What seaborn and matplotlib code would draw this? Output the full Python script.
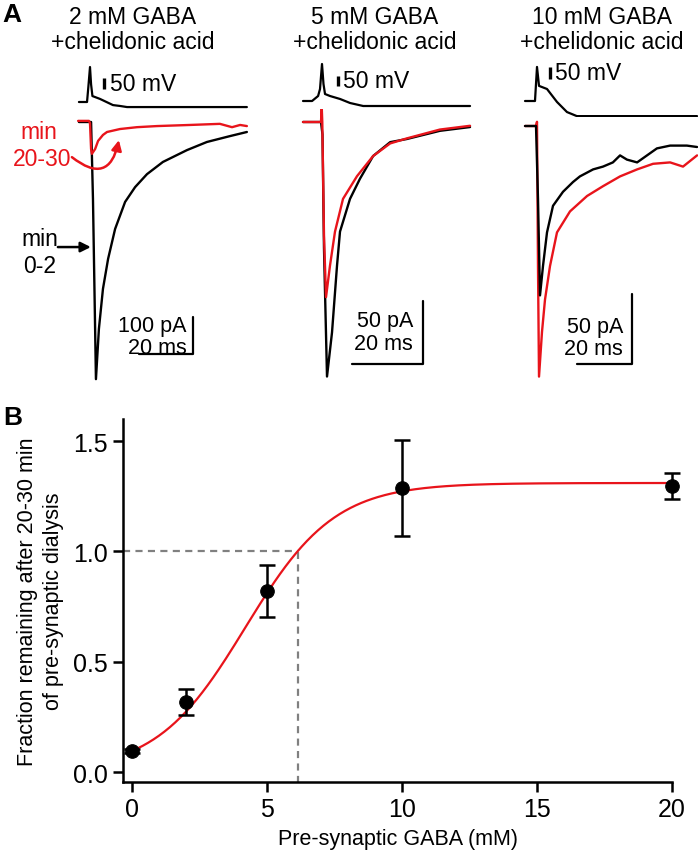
import numpy as np
import pandas as pd
import matplotlib
matplotlib.use("Agg")
import matplotlib.pyplot as plt
import seaborn as sns

sns.set_style("ticks")
plt.rcParams['font.family'] = ['Liberation Sans', 'DejaVu Sans']
for k in ['text.color', 'axes.labelcolor', 'xtick.color', 'ytick.color', 'axes.edgecolor']:
    plt.rcParams[k] = 'black'

RED = '#e8141b'
W, H = 698, 853
FS = 16.5

# ---------------- Panel A data (t in ms from spike peak, AP in mV from rest, IPSC in pA)
titles = ["2 mM GABA\n+chelidonic acid", "5 mM GABA\n+chelidonic acid", "10 mM GABA\n+chelidonic acid"]
amp_bars = ["100 pA", "50 pA", "50 pA"]
amp_sizes = [100, 50, 50]

# 2 mM
ap1_t = [-4.1, -1.1, -0.6, 0.0, 0.4, 0.9, 3.7, 8.5, 11.1, 13.7, 58.1]
ap1_v = [0, 0, 70, 159, 80, 27, 14, -14, -18, -23, -23]
blk1_t = [-4.1, 0.4, 1.1, 2.2, 3.3, 4.8, 6.7, 9.3, 13.0, 16.7, 21.1, 27.0, 35.9, 43.3, 51.9, 58.1]
blk1_i = [0, 0, -208, -695, -559, -451, -370, -289, -216, -176, -141, -108, -76, -54, -38, -27]
red1_t = [-4.4, -0.4, 0.0, 0.4, 0.7, 1.9, 3.0, 4.8, 6.3, 11.1, 17.4, 24.8, 37.0, 48.1, 52.6, 55.6, 58.1]
red1_i = [3, 3, -3, -73, -86, -73, -51, -35, -27, -19, -14, -11, -8, -5, -14, -8, -11]

# 5 mM
ap2_t = [-5.35, -2.8, -1.1, -0.56, 0.0, 0.42, 0.85, 2.25, 5.1, 7.9, 11.6, 41.7]
ap2_v = [0, 0, 25, 60, 185, 85, 35, 25, 10, -10, -25, -25]
blk2_t = [-5.35, -0.28, 0.14, 0.56, 1.41, 2.82, 4.23, 5.07, 7.89, 10.7, 14.4, 19.2, 23.9, 33.2, 41.7]
blk2_i = [0, 0, -10, -100, -202, -167, -114, -87, -61, -45, -27, -16, -13.5, -7, -4]
red2_t = [-5.35, -0.28, -0.08, 0.08, 0.56, 1.13, 2.25, 3.66, 5.92, 9.86, 14.4, 19.2, 23.9, 33.2, 41.7]
red2_i = [0, 0, 12, 0, -90, -139, -114, -87, -61, -43, -27, -17, -13, -6, -3]

# 10 mM
ap3_t = [-4.36, -0.73, 0.0, 0.73, 3.64, 7.27, 10.9, 14.5, 58.2]
ap3_v = [0, 0, 142, 63, 50, -4, -46, -63, -63]
blk3_t = [-4.36, -0.36, 0.36, 1.09, 2.18, 3.64, 5.82, 9.45, 13.1, 15.6, 20.4, 24.0, 27.6, 30.2, 32.7, 36.4, 40.0, 43.6, 48.4, 54.5, 58.2]
blk3_i = [0, 0, -52, -121, -100, -76, -57, -47, -40, -36, -31, -29, -26, -21, -24, -26, -21, -16, -14, -14, -15]
red3_t = [-4.36, -0.36, 0.0, 0.36, 0.73, 1.82, 2.91, 4.73, 7.27, 12.0, 18.2, 24.0, 30.2, 36.4, 42.2, 48.4, 53.1, 58.2]
red3_i = [0, 0, 3, -100, -179, -147, -124, -100, -76, -61, -50, -43, -36, -31, -27, -26, -29, -21]

# ---------------- Panel B data
conc = [0, 2, 5, 10, 20]
frac = [0.095, 0.317, 0.82, 1.287, 1.296]
frac_err = [0.01, 0.059, 0.117, 0.217, 0.059]
# Boltzmann fit parameters and the concentration where the fit crosses 1.0
fit_top, fit_half, fit_slope = 1.31, 4.2, 1.65
cross_x = 6.15

fig = plt.figure(figsize=(W / 100, H / 100), dpi=100)


def px_axes(l, t, r, b):
    ax = fig.add_axes([l / W, 1 - b / H, (r - l) / W, (b - t) / H])
    ax.set_axis_off()
    return ax


# layout of each column: spike px, px per ms, ipsc baseline px, px per pA, AP baseline px, px per mV, left, right, title x
cols = [
    dict(x0=90, s=2.7, y0=123, sy=0.37, ay0=103, ak=0.22, l=10, r=250, tx=133),
    dict(x0=322, s=3.55, y0=123, sy=1.26, ay0=102, ak=0.20, l=290, r=475, tx=375),
    dict(x0=537, s=2.75, y0=127, sy=1.40, ay0=102, ak=0.24, l=505, r=698, tx=602),
]
aps = [(ap1_t, ap1_v), (ap2_t, ap2_v), (ap3_t, ap3_v)]
ipscs = [((blk1_t, blk1_i), (red1_t, red1_i)),
         ((blk2_t, blk2_i), (red2_t, red2_i)),
         ((blk3_t, blk3_i), (red3_t, red3_i))]
# scale bars: ms bar end, pA bottom, text t, pA text baseline, ms text baseline | AP bar t, mV bottom, text t, text mV
bars = [(38.1, -627, 35.9, -565, -624, 5.2, 59, 7.4, 82),
        (28.5, -192, 25.6, -162, -180, 4.5, 75, 5.9, 100),
        (34.5, -170, 31.3, -147, -163, 4.7, 92, 6.5, 117)]

ipsc_axes = []
for i, c in enumerate(cols):
    xl = ((c['l'] - c['x0']) / c['s'], (c['r'] - c['x0']) / c['s'])
    # action potential
    ax_ap = px_axes(c['l'], 55, c['r'], 118)
    ax_ap.set_xlim(*xl)
    ax_ap.set_ylim((c['ay0'] - 118) / c['ak'], (c['ay0'] - 55) / c['ak'])
    sns.lineplot(x=aps[i][0], y=aps[i][1], ax=ax_ap, color='black', lw=1.6, sort=False, estimator=None)
    bt, bv = bars[i][5], bars[i][6]
    ax_ap.plot([bt, bt], [bv, bv + 50], color='black', lw=2.4, solid_capstyle='butt')
    ax_ap.text(bars[i][7], bars[i][8], "50 mV", fontsize=FS, ha='left', va='center')
    ax_ap.set_axis_off()

    # IPSCs
    ax = px_axes(c['l'], 110, c['r'], 392)
    ax.set_xlim(*xl)
    ax.set_ylim((c['y0'] - 392) / c['sy'], (c['y0'] - 110) / c['sy'])
    (bt_, bi_), (rt_, ri_) = ipscs[i]
    order = [('black', bt_, bi_), (RED, rt_, ri_)]
    if i == 2:
        order = order[::-1]
    for col, tt, ii in order:
        sns.lineplot(x=tt, y=ii, ax=ax, color=col, lw=1.7, sort=False, estimator=None)
    te, pb, ttx, pa_txt, ms_txt = bars[i][:5]
    ax.plot([te - 20, te, te], [pb, pb, pb + amp_sizes[i]], color='black', lw=1.6)
    ax.text(ttx, pa_txt, amp_bars[i], fontsize=15.5, ha='right', va='baseline')
    ax.text(ttx, ms_txt, "20 ms", fontsize=15.5, ha='right', va='baseline')
    ax.set_axis_off()
    ipsc_axes.append(ax)

    fig.text(c['tx'] / W, 1 - 30 / H, titles[i], fontsize=FS, ha='center', va='center', linespacing=1.13)

# labels on the 2 mM traces
ax1 = ipsc_axes[0]
ax1.text(-18.9, -27, "min", color=RED, fontsize=FS, ha='center', va='center')
ax1.text(-17.8, -100, "20-30", color=RED, fontsize=FS, ha='center', va='center')
ax1.text(-18.5, -314, "min", color='black', fontsize=FS, ha='center', va='center')
ax1.text(-18.5, -389, "0-2", color='black', fontsize=FS, ha='center', va='center')
ax1.annotate("", xy=(0.3, -338), xytext=(-11.9, -338), annotation_clip=False,
             arrowprops=dict(arrowstyle='-|>', color='black', lw=1.8, shrinkA=0, shrinkB=0, mutation_scale=15))
ax1.annotate("", xy=(10.7, -49), xytext=(-6.7, -95), annotation_clip=False,
             arrowprops=dict(arrowstyle='-|>', color=RED, lw=1.8, shrinkA=0, shrinkB=0, mutation_scale=15,
                             connectionstyle='arc3,rad=0.8'))

fig.text(12 / W, 1 - 15 / H, "A", fontsize=19, fontweight='bold', ha='center', va='center')
fig.text(13 / W, 1 - 418 / H, "B", fontsize=19, fontweight='bold', ha='center', va='center')

# ---------------- Panel B
axb = fig.add_axes([123 / W, 1 - 783 / H, (672 - 123) / W, (783 - 420) / H])
xfit = np.linspace(0, 20, 300)
yfit = fit_top / (1 + np.exp((fit_half - xfit) / fit_slope))
axb.plot([-0.33, cross_x], [1.0, 1.0], color='#808080', lw=1.6, ls=(0, (3.2, 2.4)))
axb.plot([cross_x, cross_x], [-0.05, 1.0], color='#808080', lw=1.6, ls=(0, (3.2, 2.4)))
sns.lineplot(x=xfit, y=yfit, ax=axb, color=RED, lw=1.6)
axb.errorbar(conc, frac, yerr=frac_err, fmt='none', ecolor='black', elinewidth=1.8, capsize=6,
             capthick=1.8, clip_on=False, zorder=3)
sns.scatterplot(x=conc, y=frac, ax=axb, color='black', s=95, edgecolor='black', zorder=4, clip_on=False)

axb.set_xlim(-0.33, 20)
axb.set_ylim(-0.045, 1.6)
axb.set_xticks([0, 5, 10, 15, 20])
axb.set_yticks([0, 0.5, 1.0, 1.5])
axb.set_yticklabels(["0.0", "0.5", "1.0", "1.5"])
sns.despine(ax=axb)
for sp in ['left', 'bottom']:
    axb.spines[sp].set_linewidth(1.8)
axb.tick_params(direction='out', length=7, width=1.8, labelsize=18, pad=4)
axb.set_xlabel("Pre-synaptic GABA (mM)", fontsize=15.5, labelpad=5)
axb.set_ylabel("Fraction remaining after 20-30 min\nof pre-synaptic dialysis", fontsize=15.5, linespacing=1.3)
axb.yaxis.set_label_coords(-0.108, 0.5)

fig.savefig("out.png", dpi=100)
